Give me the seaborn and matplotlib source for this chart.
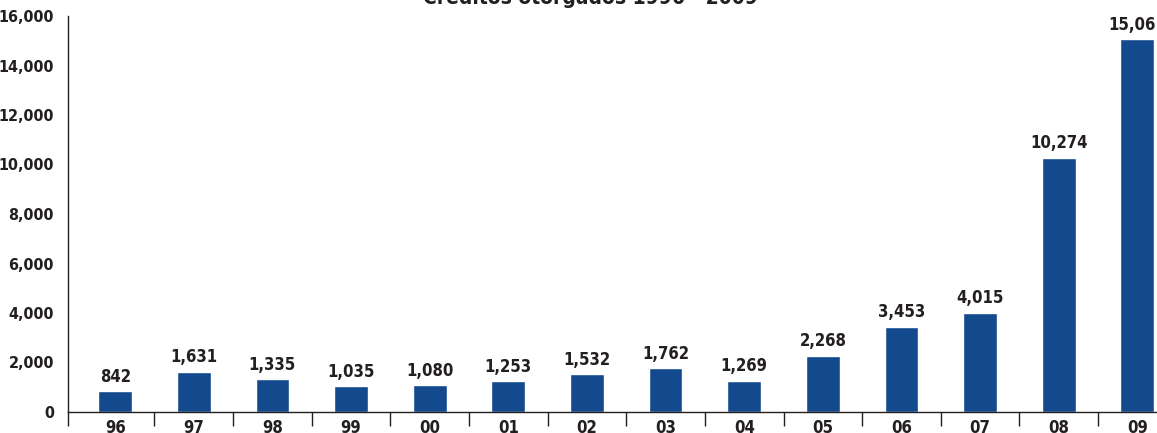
import numpy as np
import pandas as pd
import matplotlib
matplotlib.use("Agg")
import matplotlib.pyplot as plt
import seaborn as sns
from matplotlib.ticker import FuncFormatter, FixedLocator

years = ["96", "97", "98", "99", "00", "01", "02", "03", "04", "05", "06", "07", "08", "09"]
creditos = [842, 1631, 1335, 1035, 1080, 1253, 1532, 1762, 1269, 2268, 3453, 4015, 10274, 15061]
title = "Créditos otorgados 1996 - 2009"

sns.set_theme(style="white")
plt.rcParams['font.family'] = ['DejaVu Sans']
plt.rcParams['font.stretch'] = 'condensed'
plt.rcParams['font.weight'] = 'bold'

text_color = "#231f20"
bar_color = "#134a8e"

df = pd.DataFrame({"year": years, "creditos": creditos})

fig = plt.figure(figsize=(11.57, 4.33), dpi=100)
ax = fig.add_axes([68 / 1157, 21 / 433, 1 - 68 / 1157, (412 - 16) / 433])

sns.barplot(data=df, x="year", y="creditos", color=bar_color, width=0.43,
            saturation=1, ax=ax)

for i, v in enumerate(creditos):
    ax.text(i, v + 220, f"{v:,}", ha="center", va="bottom", fontsize=12,
            fontweight="bold", fontstretch="condensed", color=text_color)

ax.set_xlim(-0.6, 13.25)
ax.set_ylim(0, 16000)
ax.set_yticks(np.arange(0, 16001, 2000))
ax.yaxis.set_major_formatter(FuncFormatter(lambda v, p: f"{int(v):,}"))

ax.xaxis.set_minor_locator(FixedLocator([-0.6] + list(np.arange(0.5, 13, 1))))
ax.tick_params(axis="x", which="major", length=0, pad=5, labelsize=12, labelcolor=text_color)
ax.tick_params(axis="x", which="minor", length=10, width=1, color=text_color, direction="out")
ax.tick_params(axis="y", which="major", length=7, width=1, color=text_color, direction="out",
               labelsize=11.5, labelcolor=text_color, pad=3)
ax.tick_params(axis="x", bottom=True, which="minor")

for lab in ax.get_xticklabels() + ax.get_yticklabels():
    lab.set_fontweight("bold")
    lab.set_fontstretch("condensed")

ax.set_xlabel("")
ax.set_ylabel("")
for s in ["top", "right"]:
    ax.spines[s].set_visible(False)
for s in ["left", "bottom"]:
    ax.spines[s].set_color(text_color)
    ax.spines[s].set_linewidth(1)

fig.text(590 / 1157, 1.006, title, ha="center", va="center", fontsize=15,
         fontweight="bold", fontstretch="condensed", color=text_color)

fig.savefig("out.png", dpi=100)
